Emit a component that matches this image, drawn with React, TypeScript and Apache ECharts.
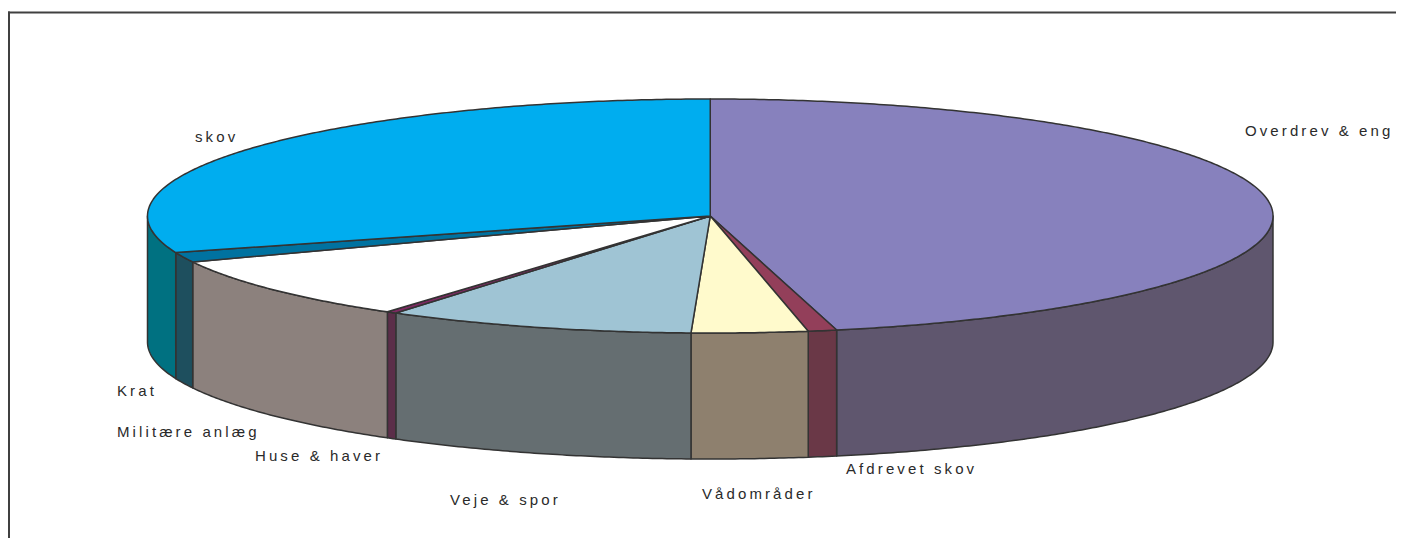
import React, { useEffect, useRef } from "react";
import * as echarts from "echarts";

const categories = [
  "Overdrev & eng",
  "Afdrevet skov",
  "Vådområder",
  "Veje & spor",
  "Huse & haver",
  "Militære anlæg",
  "Krat",
  "skov",
];
const values = [46.39, 0.82, 3.33, 8.89, 0.29, 8.85, 1.36, 30.06];
const topColors = ["#8781BD", "#933F5A", "#FFFACC", "#9FC4D4", "#7E2A62", "#FFFFFF", "#0072A0", "#00ADEF"];
const sideColors = ["#5F566E", "#6A3847", "#8E806E", "#656E71", "#5B2E49", "#8C817D", "#1E4F5E", "#007181"];

// label anchors (left/middle), chart pixel coordinates
const labelAnchors = [
  [1237, 122],
  [838, 460],
  [694, 485],
  [442, 491],
  [247, 447],
  [109, 423],
  [109, 382],
  [187, 128],
];

const CX = 702.25;
const CY = 208;
const RX = 562.75;
const RY = 117;
const DEPTH = 126;

export default function App() {
  const ref = useRef<HTMLDivElement>(null);
  useEffect(() => {
    document.documentElement.style.overflow = "hidden";
    document.body.style.overflow = "hidden";
    const chart = echarts.init(ref.current!, null, { renderer: "svg" });
    const total = values.reduce((a, b) => a + b, 0);
    const starts: number[] = [];
    let acc = 0;
    values.forEach((v) => {
      starts.push(acc);
      acc += v;
    });
    const pt = (a: number, dy: number) => [CX + RX * Math.sin(a), CY - RY * Math.cos(a) + dy];
    const arc = (a0: number, a1: number, dy: number) => {
      const pts: number[][] = [];
      const n = Math.max(2, Math.ceil(Math.abs(a1 - a0) / (Math.PI / 360)));
      for (let i = 0; i <= n; i++) pts.push(pt(a0 + ((a1 - a0) * i) / n, dy));
      return pts;
    };
    const stroke = "#333333";
    const option: any = {
      animation: false,
      backgroundColor: "#ffffff",
      series: [
        {
          type: "custom",
          coordinateSystem: "none",
          data: values.map((v, i) => ({ value: [v], name: categories[i] })),
          renderItem: (params: any, api: any) => {
            const idx = params.dataIndex;
            const v = api.value(0);
            const a0 = (starts[idx] / total) * Math.PI * 2;
            const a1 = ((starts[idx] + v) / total) * Math.PI * 2;
            const children: any[] = [];
            const lo = Math.max(a0, Math.PI / 2);
            const hi = Math.min(a1, (Math.PI * 3) / 2);
            if (lo < hi) {
              const pts = arc(lo, hi, 0).concat(arc(hi, lo, DEPTH));
              children.push({
                type: "polygon",
                shape: { points: pts },
                style: { fill: sideColors[idx], stroke, lineWidth: 1.5, lineJoin: "round" },
              });
            }
            const topPts = [[CX, CY]].concat(arc(a0, a1, 0));
            children.push({
              type: "polygon",
              shape: { points: topPts },
              style: { fill: topColors[idx], stroke, lineWidth: 1.5, lineJoin: "round" },
            });
            return { type: "group", children };
          },
        },
      ],
      graphic: [
        {
          type: "line",
          shape: { x1: 0, y1: 4.5, x2: 2000, y2: 4.5 },
          style: { stroke: "#404040", lineWidth: 2 },
          silent: true,
        },
        {
          type: "line",
          shape: { x1: 1, y1: 3.5, x2: 1, y2: 2000 },
          style: { stroke: "#404040", lineWidth: 2 },
          silent: true,
        },
        ...categories.map((c, i) => ({
          type: "text",
          x: labelAnchors[i][0],
          y: labelAnchors[i][1],
          style: {
            text: c,
            fill: "#2a2a2a",
            font: '15px "Liberation Sans", Arial, sans-serif',
            textAlign: "left",
            textVerticalAlign: "middle",
          },
        })),
      ],
    };
    chart.setOption(option);
    return () => chart.dispose();
  }, []);
  return <div ref={ref} style={{ width: 1420, height: 545, letterSpacing: "3.1px" }} />;
}
